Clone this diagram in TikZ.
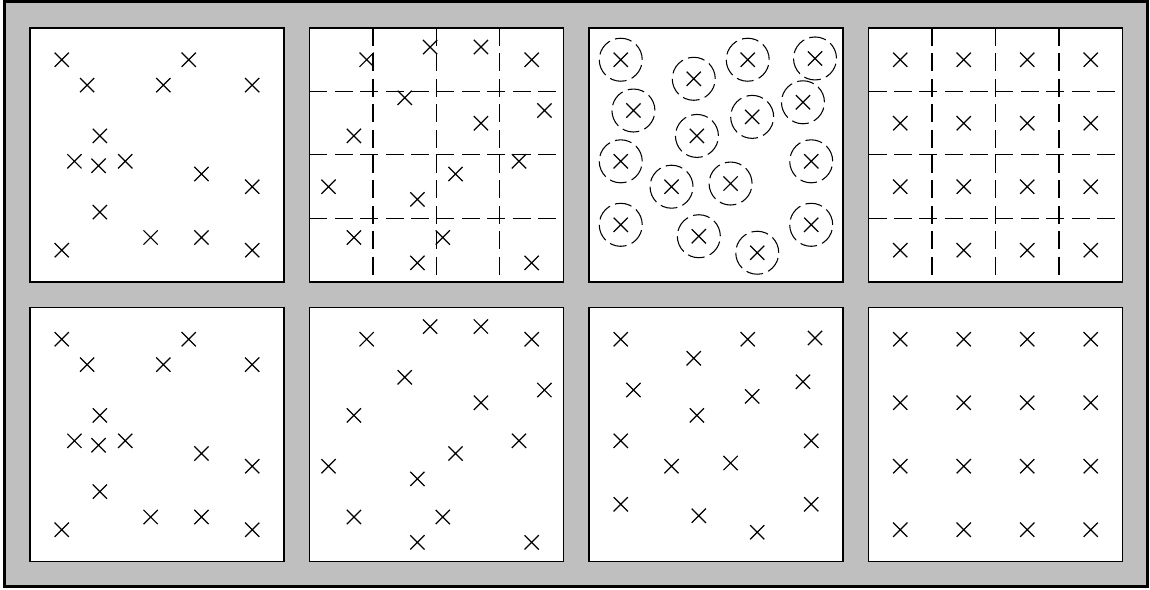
\documentclass[tikz,border=0pt]{standalone}
\usetikzlibrary{shapes.misc}
\tikzset{
    panel/.style 2 args={shift={(30+279.5*#1,28+279.5*#2)}, x=1.27cm, y=-1.27cm},
    window/.style={draw, fill=white, line width=0.8pt},
    sample/.style={cross out, draw, line width=0.7pt, minimum size=0.26cm, inner sep=0pt},
    cellline/.style={line width=0.6pt, dash pattern=on 0.36cm off 0.148cm},
    ring/.style={line width=0.6pt, dash pattern=on 0.34cm off 0.11cm},
}

\begin{document}
\begin{tikzpicture}[x=0.02cm, y=-0.02cm]
    \useasboundingbox (0,0) rectangle (1150,590);
    \draw[fill=black!25, line width=1.5pt] (4.7,1.3) rectangle (1147.5,586.3);

    \foreach \row in {0,1} {
        \begin{scope}[panel={0}{\row}]
            \draw[window] (0,0) rectangle (4,4);
            \foreach \u/\v [count=\k] in {0.5/0.5, 2.5/0.5, 0.9/0.9, 2.1/0.9, 3.5/0.9,
                1.1/1.7, 0.7/2.1, 1.08/2.17, 1.5/2.1, 2.7/2.3, 3.5/2.5, 1.1/2.9,
                1.9/3.3, 2.7/3.3, 0.5/3.5, 3.5/3.5}
                \node[sample] (a\row-\k) at (\u,\v) {};
        \end{scope}

        \begin{scope}[panel={1}{\row}]
            \draw[window] (0,0) rectangle (4,4);
            \ifnum\row=0
                \foreach \t in {1,2,3} {
                    \draw[cellline] (\t,0) -- (\t,4);
                    \draw[cellline] (0,\t) -- (4,\t);
                }
            \fi
            \foreach \u/\v [count=\k] in {0.9/0.5, 1.9/0.3, 2.7/0.3, 3.5/0.5, 1.5/1.1,
                3.7/1.3, 2.7/1.5, 0.7/1.7, 3.3/2.1, 2.3/2.3, 0.3/2.5, 1.7/2.7,
                0.7/3.3, 2.1/3.3, 1.7/3.7, 3.5/3.7}
                \node[sample] (b\row-\k) at (\u,\v) {};
        \end{scope}

        \begin{scope}[panel={2}{\row}]
            \draw[window] (0,0) rectangle (4,4);
            \foreach \u/\v [count=\k] in {0.5/0.5, 1.65/0.8, 2.5/0.5, 3.56/0.48, 0.7/1.3,
                2.57/1.4, 3.37/1.17, 1.7/1.7, 0.5/2.1, 3.5/2.1, 1.3/2.5, 2.23/2.45,
                0.5/3.1, 1.73/3.28, 2.65/3.54, 3.5/3.1}
                \node[sample] (c\row-\k) at (\u,\v) {};
            \ifnum\row=0
                \foreach \k in {1,...,16}
                    \draw[ring] (c0-\k) circle[radius=0.43cm];
            \fi
        \end{scope}

        \begin{scope}[panel={3}{\row}]
            \draw[window] (0,0) rectangle (4,4);
            \ifnum\row=0
                \foreach \t in {1,2,3} {
                    \draw[cellline] (\t,0) -- (\t,4);
                    \draw[cellline] (0,\t) -- (4,\t);
                }
            \fi
            \foreach \v in {0,...,3}
                \foreach \u in {0,...,3}
                    \node[sample] (d\row-\u\v) at (\u+0.5,\v+0.5) {};
        \end{scope}
    }
\end{tikzpicture}
\end{document}
